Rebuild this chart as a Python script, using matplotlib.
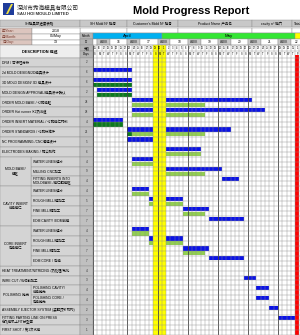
import numpy as np
import pandas as pd
import matplotlib
matplotlib.use("Agg")
import matplotlib.pyplot as plt
from matplotlib.patches import Rectangle, Polygon

plt.rcParams['font.family'] = ['Liberation Sans', 'Noto Sans CJK SC']

# ---- data ----
tasks = ["DFM / 可行性分析", "2d MOLD DESIGN/2D模具设计", "3D MOLD DESIGN/ 3D 模具设计",
         "MOLD DESIGN APPROVAL/模具设计确认", "ORDER MOLD BASE / 订购模胚",
         "ORDER Hot runner /订热流道", "ORDER INSERT MATERIAL / 订购模仁材料",
         "ORDER STANDARDS / 订购标准件", "NC PROGRAMMING /CNC编程设计",
         "ELECTRODES MAKING / 铜公制作",
         "WATER LINES/运水", "MILLING CNC加工", "FITTING INSERTS INTO\nMOLDBASE /模仁配模胚",
         "WATER LINES/运水", "ROUGH MILL/粗加工", "FINE MILL/精加工", "EDM CAVITY /EDM前模",
         "WATER LINES/运水", "ROUGH MILL/粗加工", "FINE MILL/精加工", "EDM CORE / 后模",
         "HEAT TREATMENT/NITRIDING /热处理/氮化", "WIRE CUT /线切割加工",
         "POLISHING CAVITY/\n前模抛光", "POLISHING CORE /\n后模抛光",
         "ASSEMBLY EJECTOR SYSTEM (装配顶针机构)",
         "FITTING PARTING LINE ON PRESS\n在飞模机上FIT分型面", "FIRST SHOT / 第1次试模"]
group_names = ["MOLD BASE/\n模胚", "CAVITY INSERT\n前模模仁", "CORE INSERT\n后模模仁", "POLISHING 抛光"]
group_first = [10, 13, 17, 23]
group_last = [12, 16, 20, 24]
days_needed = ["2", "6", "6", "2", "24", "28", "4", "21", "5", "6", "4", "9", "4", "4",
               "5", "7", "7", "4", "5", "7", "7", "4", "3", "4", "4", "2", "3", "1"]

# plan (blue)
plan_start = [None, "04-15", "04-15", "04-16", "04-24", "04-24", "04-15", "04-23", "04-23", "05-02",
              "04-24", "05-02", "05-15", "04-24", "04-28", "05-06", "05-12", "04-24", "04-28",
              "05-06", "05-12", None, "05-20", "05-23", "05-23", "05-26", "05-28", None]
plan_end = [None, "04-23", "04-23", "04-23", "05-21", "05-24", "04-21", "05-16", "04-28", "05-09",
            "04-28", "05-14", "05-18", "04-27", "05-05", "05-11", "05-19", "04-27", "05-05",
            "05-11", "05-19", None, "05-22", "05-25", "05-25", "05-27", "05-31", None]
# finished (dark green)
done_start = [None, None, "04-15", "04-16", None, None, "04-15", "04-23"] + [None] * 20
done_end = [None, None, "04-23", "04-23", None, None, "04-21", "04-23"] + [None] * 20
# actual progress (light green)
act_start = [None, None, None, None, "04-24", "04-24", None, "04-24", None, "05-02",
             "04-24", "05-02", None, "04-24", "04-28", "05-06", None, "04-24", "04-28",
             "05-06"] + [None] * 8
act_end = [None, None, None, None, "05-10", "05-10", None, "05-10", None, "05-09",
           "04-28", "05-10", None, "04-27", "05-05", "05-10", None, "04-27", "05-05",
           "05-10"] + [None] * 8

holidays = ["04-29", "04-30", "05-01"]
deadline = "06-01"
week_numbers = [16, 17, 18, 19, 20, 21, 22]
week_first_day = ["04-16", "04-23", "04-30", "05-07", "05-14", "05-21", "05-28"]
months = ["April", "May", ""]
month_first_day = ["04-15", "05-01", "06-01"]
month_colors = ["#00b0f0", "#33e633", "#ffff00"]

FIRST = pd.Timestamp("2018-04-15")
def day_idx(s):
    return (pd.Timestamp("2018-" + s) - FIRST).days

# ---- layout (pixels -> gantt units) ----
X0, CW = 93.0, 4.3
Y0, RH = 57.5, 9.91
def dx(p):
    return (p - X0) / CW
def dy(p):
    return (p - Y0) / RH

fig = plt.figure(figsize=(3.0, 3.35), dpi=100)
ax = fig.add_axes([0, 0, 1, 1])
ax.set_xlim(dx(0), dx(300))
ax.set_ylim(dy(335), dy(0))
ax.axis("off")

def cell(x0, y0, x1, y1, fc="white", ec="#8c8c8c", lw=0.3, z=1):
    ax.add_patch(Rectangle((dx(x0), dy(y0)), dx(x1) - dx(x0), dy(y1) - dy(y0),
                           facecolor=fc, edgecolor=ec, linewidth=lw, zorder=z))

def txt(x, y, s, size, ha="center", **kw):
    ax.text(dx(x), dy(y), s, fontsize=size, ha=ha, va="center", zorder=6, **kw)

# logo + company
ax.add_patch(Rectangle((dx(3), dy(3)), dx(14) - dx(3), dy(15) - dy(3), facecolor="#1f3c9a", zorder=2))
ax.add_patch(Polygon([(dx(6), dy(14)), (dx(8), dy(14)), (dx(13), dy(4)), (dx(11), dy(4))],
                     facecolor="#f0e040", zorder=3))
txt(17, 7.5, "深圳市秀海模具有限公司", 4.1, ha="left", color="#222222")
txt(17, 14, "SAU HOI MOULD LIMITED", 3.1, ha="left", weight="bold", color="#333333")
txt(191, 11, "Mold Progress Report", 8, weight="bold")

# top header cells
cell(0, 20, 80, 27.5, fc="#c8c8c8")
txt(40, 23.8, "SH模具部进度表格", 2.5)
hdr_x = [80, 127, 178, 252, 292, 330]
hdr_t = ["SH Mold Nº 模号", "Customer's Mold Nº 模号", "Product Name 产品名", "cavity nº 模穴", "Total"]
for i, t in enumerate(hdr_t):
    cell(hdr_x[i], 20, hdr_x[i + 1], 27.5, fc="#c8c8c8")
    cell(hdr_x[i], 27.5, hdr_x[i + 1], 33)
    txt((hdr_x[i] + hdr_x[i + 1]) / 2 if i < 4 else 294, 23.8, t, 2.5, ha="center" if i < 4 else "left")

for lab, val, y0, y1 in [("年/Year:", "2018", 27.5, 33.5), ("月/Month:", "05/May", 33.5, 39.5),
                         ("日/Day:", "13", 39.5, 45)]:
    cell(0, y0, 32, y1, fc="#dcc5be")
    cell(32, y0, 80, y1)
    txt(2, (y0 + y1) / 2, lab, 2.5, ha="left", color="#7a3b2e")
    txt(56, (y0 + y1) / 2, val, 2.6)
cell(0, 45, 80, Y0, fc="#eeeeee")
txt(40, 51, "DESCRIPTION 描述", 2.8, weight="bold")

# narrow column header
for lab, y0, y1 in [("Month", 33, 39), ("17", 39, 45), ("天数", 45, 51), ("Days", 51, Y0)]:
    cell(80, y0, X0, y1, fc="#b4b4b4")
    txt(86.5, (y0 + y1) / 2, lab, 2.2)

# month row
ncol = 49
for i, m in enumerate(months):
    s = day_idx(month_first_day[i])
    e = day_idx(month_first_day[i + 1]) if i + 1 < len(months) else ncol
    ax.add_patch(Rectangle((s, dy(33)), e - s, dy(39) - dy(33), facecolor=month_colors[i],
                           edgecolor="#8c8c8c", linewidth=0.3, zorder=1))
    if m:
        ax.text((s + e) / 2, dy(36), m, fontsize=3.2, ha="center", va="center", zorder=6)

# week row
ax.add_patch(Rectangle((0, dy(39)), 1, dy(45) - dy(39), facecolor="white", edgecolor="#8c8c8c", lw=0.3))
for n, d in zip(week_numbers, week_first_day):
    s = day_idx(d)
    ax.add_patch(Rectangle((s, dy(39)), 3, dy(45) - dy(39), facecolor="#c8c8c8", edgecolor="#8c8c8c", lw=0.3))
    ax.add_patch(Rectangle((s + 3, dy(39)), 4, dy(45) - dy(39), facecolor="white", edgecolor="#8c8c8c", lw=0.3))
    ax.text(s + 1.5, dy(42), "WEEK", fontsize=2.0, ha="center", va="center", zorder=6)
    ax.text(min(s + 5, 47.4), dy(42), str(n), fontsize=2.3, ha="center", va="center", zorder=6)

# day + weekday rows (only columns fully inside the sheet)
dates = pd.date_range("2018-04-15", periods=48)
wk_letters = ["M", "T", "W", "T", "F", "S", "S"]
for i, d in enumerate(dates):
    ax.text(i + 0.5, dy(48), str(d.day), fontsize=1.8, ha="center", va="center", zorder=6)
    ax.text(i + 0.5, dy(54.2), wk_letters[d.weekday()], fontsize=1.8, ha="center", va="center", zorder=6)

# left description column
for k, t in enumerate(tasks):
    in_group = any(a <= k <= b for a, b in zip(group_first, group_last))
    x_left = 31 if in_group else 0
    cell(x_left, Y0 + k * RH, 80, Y0 + (k + 1) * RH, fc="#d4d4d4")
    cell(80, Y0 + k * RH, X0, Y0 + (k + 1) * RH, fc="#c0c0c0")
    txt(x_left + 2, Y0 + (k + 0.5) * RH, t, 2.45, ha="left", linespacing=1.0)
    txt(86.5, Y0 + (k + 0.5) * RH, days_needed[k], 2.2, color="#333333")
for g, a, b in zip(group_names, group_first, group_last):
    cell(0, Y0 + a * RH, 31, Y0 + (b + 1) * RH, fc="#d4d4d4")
    txt(15.5, Y0 + (a + b + 1) / 2 * RH, g, 2.45, linespacing=1.0)

# gantt body background
ax.add_patch(Rectangle((0, 0), ncol, 28, facecolor="white", zorder=0.5))

rows = np.arange(len(tasks))
def draw(starts, ends, yoff, color):
    idx = [k for k in rows if starts[k] is not None]
    left = np.array([day_idx(starts[k]) for k in idx])
    width = np.array([day_idx(ends[k]) for k in idx]) - left + 1
    ax.barh(np.array(idx) + yoff, width, left=left, height=0.42, color=color, zorder=2)

draw(plan_start, plan_end, 0.27, "#0a12e6")
draw(done_start, done_end, 0.76, "#0b7a1e")
draw(act_start, act_end, 0.76, "#92d050")

# holidays and deadline
hol = np.array([day_idx(h) for h in holidays])
ax.bar(hol + 0.5, 28 - dy(45), bottom=dy(45), width=1, color="#ffff00", zorder=3)
ax.bar(day_idx(deadline) + 0.5, 28 - dy(55), bottom=dy(55), width=1, color="#ff0000", zorder=3)

# grid lines
seps = [day_idx(d) for d in week_first_day[1:]] + [0]
for i in range(ncol + 1):
    strong = i in seps
    ax.vlines(i, dy(45), 28, colors="#444444" if strong else "#8c8c8c",
              linewidth=0.6 if strong else 0.3, zorder=4)
for yy in np.arange(0, 28.01, 0.5):
    ax.hlines(yy, 0, ncol, colors="#8c8c8c", linewidth=0.3, zorder=4)
for p in [45, 51]:
    ax.hlines(dy(p), 0, ncol, colors="#8c8c8c", linewidth=0.3, zorder=4)

fig.savefig("out.png", dpi=100)
